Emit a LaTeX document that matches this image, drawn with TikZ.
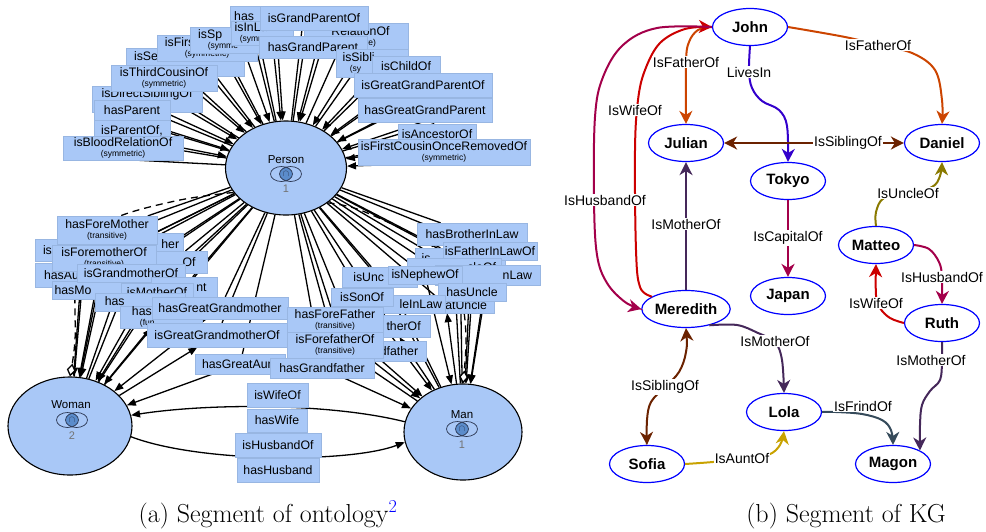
\documentclass[tikz,border=0pt]{standalone}
\usepackage{fontspec}
\usetikzlibrary{arrows.meta,shapes.geometric,calc}
\newfontfamily\lsans{Liberation Sans}
\newcommand\setfs[1]{\fontsize{#1pt}{#1pt}\selectfont}
\newcommand\subl[1]{\\[-2.5pt]{\setfs{8.5}#1}}
\newcommand\hid[1]{\phantom{#1}}
\pgfdeclarelayer{links}
\pgfsetlayers{links,main}
\definecolor{boxblue}{HTML}{A9C8F7}
\definecolor{boxedge}{HTML}{98B6E2}
\definecolor{lensblue}{HTML}{5B8CCB}
\definecolor{vennline}{HTML}{2A3550}
\definecolor{fatherc}{HTML}{CC4400}
\definecolor{livesc}{HTML}{3300CC}
\definecolor{siblingc}{HTML}{6B2200}
\definecolor{crimsonc}{HTML}{A3004A}
\definecolor{olivec}{HTML}{8A7A00}
\definecolor{wifec}{HTML}{CC0000}
\definecolor{motherc}{HTML}{45285A}
\definecolor{auntc}{HTML}{C8A200}
\definecolor{friendc}{HTML}{354A5A}
\tikzset{
  kgtip/.tip={Stealth[length=13pt,width=13pt,inset=4pt]},
  ontip/.tip={Triangle[length=9pt,width=7pt]},
  cls/.style={ellipse, draw=black, line width=1.1pt, fill=boxblue, inner sep=0pt},
  bx/.style={rectangle, fill=boxblue, draw=boxedge, line width=0.3pt, inner sep=1pt,
    align=center, font=\lsans\setfs{12.3}},
  rel/.style={line width=1.3pt, black},
  clstext/.style={inner sep=0pt, font=\lsans\setfs{11.5}},
  clsnum/.style={inner sep=0pt, font=\lsans\setfs{11}, text=black!55},
  kgnode/.style={ellipse, draw=blue, line width=1.2pt, fill=white, minimum width=75pt,
    minimum height=37pt, inner sep=0pt, font=\lsans\bfseries\setfs{15}},
  kglabel/.style={fill=white, inner sep=1pt, font=\lsans\setfs{14}},
  kge/.style={line width=2pt, -{kgtip}},
  caption/.style={inner sep=0pt, anchor=base, font=\setfs{26}},
  venn/.pic={
    \begin{scope}
      \clip (-4.5,0) ellipse [x radius=11, y radius=7.5];
      \fill[lensblue] (4.5,0) ellipse [x radius=11, y radius=7.5];
    \end{scope}
    \draw[line width=0.7pt, vennline] (-4.5,0) ellipse [x radius=11, y radius=7.5]
      (4.5,0) ellipse [x radius=11, y radius=7.5];
    \node[inner sep=0pt, font=\setfs{9}, text=vennline] (-cap) at (0,-0.3) {$\cap$};
  }
}
\begin{document}
\begin{tikzpicture}[x=1pt,y=1pt]
\useasboundingbox (0,0) rectangle (986,-531);

% ---------------- ontology classes ----------------
\node[cls, minimum width=121pt, minimum height=94pt] (person) at (286,-168) {};
\node[cls, minimum width=124pt, minimum height=98pt] (woman) at (70,-426) {};
\node[cls, minimum width=118pt, minimum height=96pt] (man) at (463,-432) {};
\node[clstext] (personT) at (286,-160) {Person};
\pic (personV) at (286,-174) {venn};
\node[clsnum] (personN) at (286,-189) {1};
\node[clstext] (womanT) at (71,-405) {Woman};
\pic (womanV) at (72,-420) {venn};
\node[clsnum] (womanN) at (72,-436) {2};
\node[clstext] (manT) at (462,-415) {Man};
\pic (manV) at (462,-429) {venn};
\node[clsnum] (manN) at (462,-445) {1};

% ---------------- property labels: Person to Person (stacked, back to front) ----------------
\node[bx, minimum width=70pt, minimum height=22pt] (tHas) at (265,-17) {has\hid{Spouse}};
\node[bx, minimum width=118pt, minimum height=28pt] (tSecond) at (185,-62) {isSe\hid{condCousinOf}\subl{\hid{(symmetric)}}};
\node[bx, minimum width=100pt, minimum height=26pt] (tFirst) at (207,-48) {isFirs\hid{tCousinOf}\subl{(symmetric)}};
\node[bx, minimum width=80pt, minimum height=26pt] (tSpouse) at (230,-40) {isSp\hid{ouseOf}\subl{(symme\hid{tric)}}};
\node[bx, minimum width=104pt, minimum height=28pt] (tRel) at (356,-37) {\hid{is}RelationOf\subl{\hid{(transi}tive)}};
\node[bx, minimum width=62pt, minimum height=24pt] (tInLaw) at (262,-33) {isInLa\hid{wOf}\subl{(symm\hid{etric)}}};
\node[bx, minimum width=108pt, minimum height=24pt] (tGpo) at (314,-18) {isGrandParentOf};
\node[bx, minimum width=108pt, minimum height=22pt] (tHgp) at (313,-47) {hasGrandParent};
\node[bx, minimum width=110pt, minimum height=26pt] (tDirect) at (147,-99) {isDirectSiblingOf\subl{\hid{(symmetric)}}};
\node[bx, minimum width=106pt, minimum height=26pt] (tThird) at (164,-78) {isThirdCousinOf\subl{(symmetric)}};
\node[bx, minimum width=76pt, minimum height=20pt] (tHasParent) at (132,-110) {hasParent};
\node[bx, minimum width=76pt, minimum height=22pt] (tParentOf) at (132,-131) {isParentOf,};
\node[bx, minimum width=120pt, minimum height=24pt] (tBlood) at (123,-148) {isBloodRelationOf\subl{(symmetric)}};
\node[bx, minimum width=72pt, minimum height=28pt] (tSibling) at (372,-63) {isSibli\hid{ngOf}\subl{(sy\hid{mmetric)}}};
\node[bx, minimum width=68pt, minimum height=20pt] (tChild) at (406,-66) {isChildOf};
\node[bx, minimum width=138pt, minimum height=24pt] (tGgpo) at (423,-85) {isGreatGrandParentOf};
\node[bx, minimum width=134pt, minimum height=24pt] (tHggp) at (425,-110) {hasGreatGrandParent};
\node[bx, minimum width=78pt, minimum height=20pt] (tAnc) at (437,-134) {isAncestorOf};
\node[bx, minimum width=172pt, minimum height=26pt] (tFcor) at (444,-152) {isFirstCousinOnceRemovedOf\subl{(symmetric)}};

% ---------------- property labels: Person to Woman ----------------
\node[bx, minimum width=96pt, minimum height=22pt] (bAuntInLaw) at (83,-250) {isA\hid{untInLawOf}};
\node[bx, minimum width=96pt, minimum height=24pt] (bHasAuntInLaw) at (83,-275) {hasAu\hid{ntInLaw}};
\node[bx, minimum width=100pt, minimum height=22pt] (bHasGM) at (133,-244) {\hid{hasGrandmot}her};
\node[bx, minimum width=100pt, minimum height=28pt] (bForeMother) at (107,-230) {hasForeMother\subl{(transitive)}};
\node[bx, minimum width=70pt, minimum height=22pt] (bIsAunt) at (172,-262) {\hid{isAunt}Of};
\node[bx, minimum width=104pt, minimum height=26pt] (bForemotherOf) at (104,-258) {isForemotherOf\subl{(transitive)}};
\node[bx, minimum width=96pt, minimum height=18pt] (bHasMIL) at (100,-290) {hasMo\hid{therInLaw}};
\node[bx, minimum width=108pt, minimum height=18pt] (bIsGMOf) at (131,-273) {isGrandmotherOf};
\node[bx, minimum width=66pt, minimum height=20pt] (bHasAunt) at (184,-287) {\hid{hasAu}nt};
\node[bx, minimum width=72pt, minimum height=18pt] (bIsMother) at (157,-292) {isMotherOf};
\node[bx, minimum width=90pt, minimum height=18pt] (bHasDaughter) at (140,-302) {has\hid{Daughter}};
\node[bx, minimum width=82pt, minimum height=22pt] (bHasMother) at (161,-317) {has\hid{Mother}\subl{(fun\hid{ctional)}}};
\node[bx, minimum width=136pt, minimum height=22pt] (bHggm) at (220,-308) {hasGreatGrandmother};
\node[bx, minimum width=140pt, minimum height=24pt] (bIggmo) at (217,-335) {isGreatGrandmotherOf};
\node[bx, minimum width=90pt, minimum height=20pt] (bHga) at (240,-364) {hasGreatAun\hid{t}};

% ---------------- property labels: Person to Man ----------------
\node[bx, minimum width=110pt, minimum height=22pt] (rHbil) at (472,-234) {hasBrotherInLaw};
\node[bx, minimum width=90pt, minimum height=20pt] (rSil) at (460,-258) {is\hid{SonInLawOf}};
\node[bx, minimum width=94pt, minimum height=18pt] (rFil) at (490,-251) {isFatherInLawOf};
\node[bx, minimum width=94pt, minimum height=18pt] (rGuo) at (454,-267) {\hid{isGreatUn}cleOf};
\node[bx, minimum width=105pt, minimum height=20pt] (rHfil) at (488,-275) {\hid{hasFatherI}nLaw};
\node[bx, minimum width=75pt, minimum height=20pt] (rUncle) at (380,-277) {isUnc\hid{leOf}};
\node[bx, minimum width=74pt, minimum height=18pt] (rNephew) at (425,-275) {isNephewOf};
\node[bx, minimum width=96pt, minimum height=16pt] (rHgu) at (446,-305) {\hid{hasGre}atUncle};
\node[bx, minimum width=68pt, minimum height=18pt] (rHu) at (472,-292) {hasUncle};
\node[bx, minimum width=90pt, minimum height=18pt] (rHuil) at (400,-304) {\hid{hasUnc}leInLaw};
\node[bx, minimum width=62pt, minimum height=18pt] (rSon) at (362,-297) {isSonOf};
\node[bx, minimum width=76pt, minimum height=22pt] (rFather) at (392,-326) {\hid{isFa}therOf};
\node[bx, minimum width=132pt, minimum height=20pt] (rHggf) at (360,-351) {\hid{hasGreatGran}dfather};
\node[bx, minimum width=96pt, minimum height=26pt] (mForeFather) at (335,-320) {hasForeFather\subl{(transitive)}};
\node[bx, minimum width=96pt, minimum height=26pt] (mForefatherOf) at (335,-345) {isForefatherOf\subl{(transitive)}};
\node[bx, minimum width=104pt, minimum height=20pt] (mGrandfather) at (322,-368) {hasGrandfather};

% ---------------- property labels: Woman and Man ----------------
\node[bx, minimum width=61pt, minimum height=24pt] (wIsWife) at (277.5,-395) {isWifeOf};
\node[bx, minimum width=60pt, minimum height=23pt] (wHasWife) at (277,-420.5) {hasWife};
\node[bx, minimum width=86pt, minimum height=24pt] (wIsHusband) at (278,-445) {isHusbandOf};
\node[bx, minimum width=82pt, minimum height=24pt] (wHasHusband) at (278,-470) {hasHusband};

% ---------------- ontology connectors (below the labels) ----------------
\begin{pgfonlayer}{links}
  \foreach \bn in {tHas,tSecond,tFirst,tSpouse,tRel,tInLaw,tGpo,tHgp,tDirect,tThird,
      tHasParent,tParentOf,tBlood,tSibling,tChild,tGgpo,tHggp,tAnc,tFcor}{
    \draw[rel] (person) -- ($(person)!1!4:(\bn)$);
    \draw[rel,-{ontip}] ($(person)!1!-4:(\bn)$) -- (person);
  }
  \foreach \bn in {bAuntInLaw,bForeMother,bIsAunt,bHasMIL,bHasAunt,bHasDaughter,bHggm,bHga}{
    \draw[rel,-{ontip}] (person) -- (\bn) -- (woman);
  }
  \foreach \bn in {bHasAuntInLaw,bHasGM,bForemotherOf,bIsGMOf,bIsMother,bHasMother,bIggmo}{
    \draw[rel,{ontip}-] (person) -- (\bn) -- (woman);
  }
  \foreach \bn in {rHbil,rFil,rHfil,rNephew,rHu,rSon,rHggf,mForeFather,mGrandfather}{
    \draw[rel,-{ontip}] (person) -- (\bn) -- (man);
  }
  \foreach \bn in {rSil,rGuo,rUncle,rHgu,rHuil,rFather,mForefatherOf}{
    \draw[rel,{ontip}-] (person) -- (\bn) -- (man);
  }
  \draw[rel, dash pattern=on 7pt off 5pt, -{Diamond[fill=white,length=13pt,width=9pt]}]
    plot[smooth, tension=0.6] coordinates {(person.205) (180,-200) (120,-216) (90,-236)
      (76,-280) (75,-340) (woman.north)};
  \draw[rel, dash pattern=on 7pt off 5pt, -{Diamond[fill=white,length=13pt,width=9pt]}]
    plot[smooth, tension=0.6] coordinates {(person.-40) (360,-210) (417,-237) (450,-262)
      (462,-300) (466,-340) (man.north)};
  \draw[rel,-{ontip}] (man.170) .. controls (330,-403) and (210,-403) .. (woman.10);
  \draw[rel,-{ontip}] (woman.-10) .. controls (200,-463) and (350,-463) .. (man.-170);
\end{pgfonlayer}

% ---------------- knowledge graph ----------------
\node[kgnode] (john) at (750,-27) {John};
\node[kgnode] (julian) at (686,-143) {Julian};
\node[kgnode] (daniel) at (942,-143) {Daniel};
\node[kgnode] (tokyo) at (788,-181) {Tokyo};
\node[kgnode] (japan) at (788,-296) {Japan};
\node[kgnode] (matteo) at (876,-245) {Matteo};
\node[kgnode] (ruth) at (942,-323) {Ruth};
\node[kgnode] (meredith) at (686,-309) {Meredith};
\node[kgnode] (lola) at (784,-412) {Lola};
\node[kgnode] (sofia) at (647,-464) {Sofia};
\node[kgnode] (magon) at (893,-464) {Magon};

\draw[kge, fatherc] plot[smooth, tension=0.6] coordinates {(john.west) (698,-30) (689,-42)
  (686,-62) (julian.north)};
\draw[kge, fatherc] plot[smooth, tension=0.6] coordinates {(john.east) (845,-37) (878,-45)
  (912,-53) (935,-70) (942,-100) (daniel.north)};
\draw[kge, livesc] plot[smooth, tension=0.6] coordinates {(john.south) (749,-71) (752,-88)
  (762,-101) (779,-110) (787,-126) (tokyo.north)};
\draw[line width=2pt, siblingc, {kgtip}-{kgtip}] (julian) -- (daniel);
\draw[kge, crimsonc] (tokyo) -- (japan);
\draw[kge, olivec] plot[smooth, tension=0.6] coordinates {(matteo.north) (876,-212) (884,-198)
  (908,-193) (932,-187) (940,-176) (daniel.south)};
\draw[kge, crimsonc] plot[smooth, tension=0.6] coordinates {(matteo.east) (929,-249)
  (939,-262) (942,-277) (ruth.north)};
\draw[kge, wifec] plot[smooth, tension=0.6] coordinates {(ruth.west) (890,-318) (880,-308)
  (876,-295) (matteo.south)};
\draw[kge, motherc] plot[smooth, tension=0.6] coordinates {(ruth.south) (942,-362) (940,-380)
  (930,-391) (922,-405) (920,-425) (magon.north east)};
\draw[kge, motherc] (meredith) -- (julian);
\draw[kge, motherc] plot[smooth, tension=0.6] coordinates {(meredith.-35) (737,-325)
  (758,-333) (775,-342) (782,-360) (lola.north)};
\draw[line width=2pt, siblingc, {kgtip}-{kgtip}] plot[smooth, tension=0.6] coordinates
  {(meredith.south) (686,-352) (679,-372) (665,-387) (651,-402) (647,-420) (sofia.north)};
\draw[kge, auntc] plot[smooth, tension=0.6] coordinates {(sofia.east) (713,-462) (742,-459)
  (768,-455) (780,-445) (lola.south)};
\draw[kge, friendc] plot[smooth, tension=0.6] coordinates {(lola.east) (836,-412) (862,-414)
  (882,-420) (891,-430) (magon.north)};
\draw[kge, wifec] plot[smooth, tension=0.6] coordinates {(meredith.160) (640,-287) (636,-250)
  (635,-150) (638,-100) (645,-70) (660,-43) (685,-29) (john.west)};
\draw[kge, crimsonc] plot[smooth, tension=0.6] coordinates {(john.west) (657,-28) (623,-45)
  (603,-77) (595,-117) (594,-200) (597,-255) (607,-283) (625,-302) (meredith.west)};

\node[kglabel] (kl1) at (686,-62) {IsFatherOf};
\node[kglabel] (kl2) at (878,-45) {IsFatherOf};
\node[kglabel] (kl3) at (749,-72) {LivesIn};
\node[kglabel] (kl4) at (848,-143) {IsSiblingOf};
\node[kglabel] (kl5) at (788,-238) {IsCapitalOf};
\node[kglabel] (kl6) at (908,-193) {IsUncleOf};
\node[kglabel] (kl7) at (942,-277) {IsHusbandOf};
\node[kglabel] (kl8) at (876,-303) {IsWifeOf};
\node[kglabel] (kl9) at (931,-360) {IsMotherOf};
\node[kglabel] (kl10) at (686,-224) {IsMotherOf};
\node[kglabel] (kl11) at (775,-341) {IsMotherOf};
\node[kglabel] (kl12) at (665,-387) {IsSiblingOf};
\node[kglabel] (kl13) at (742,-458) {IsAuntOf};
\node[kglabel] (kl14) at (863,-406) {IsFrindOf};
\node[kglabel] (kl15) at (635,-110) {IsWifeOf};
\node[kglabel] (kl16) at (605,-200) {IsHusbandOf};

% ---------------- captions ----------------
\node[caption] (capA) at (268,-522) {(a) Segment of ontology\textsuperscript{\color{blue}2}};
\node[caption] (capB) at (846,-522) {(b) Segment of KG};
\end{tikzpicture}
\end{document}
